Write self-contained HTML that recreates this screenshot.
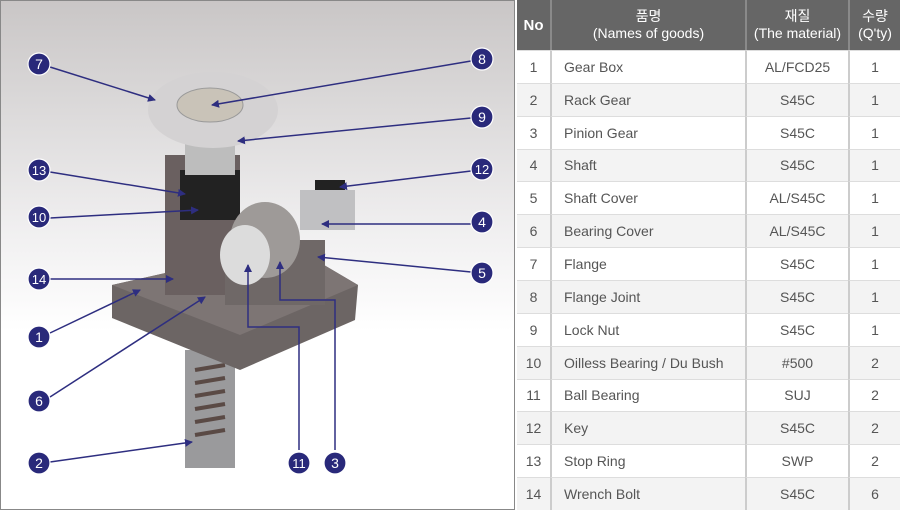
<!DOCTYPE html>
<html><head><meta charset="utf-8"><style>
body{margin:0;width:900px;height:510px;overflow:hidden;background:#fff;font-family:"Liberation Sans","Noto Sans CJK KR",sans-serif}
#left{position:absolute;left:0;top:0;width:515px;height:510px}
#tb{position:absolute;left:517px;top:0;width:383px;height:510px;display:grid;grid-template-columns:33px 195px 103px 52px;grid-template-rows:50px repeat(14,1fr);font-size:14px;color:#555}
#tb div{display:flex;align-items:center;justify-content:center;border-top:1px solid #ddd;border-left:2px solid #ccc;box-sizing:border-box}
#tb div.f{border-left:none}
#tb div.n{justify-content:flex-start;padding-left:12px}
#tb div.h{background:#666;color:#fff;border-left:2px solid #8a8a8a;border-top:none;text-align:center;line-height:17px}
#tb div.h.f{font-weight:bold;font-size:15px;border-left:none}
#tb div.g{background:#f3f3f3}
</style></head><body>
<svg id="left" width="515" height="510" viewBox="0 0 515 510">
<defs><linearGradient id="bg" x1="0" y1="0" x2="0" y2="1">
<stop offset="0" stop-color="#c9c6c6"/><stop offset="0.45" stop-color="#f0eff0"/><stop offset="0.65" stop-color="#fff"/><stop offset="1" stop-color="#fff"/></linearGradient>
<marker id="a" markerWidth="8" markerHeight="8" refX="7" refY="4" orient="auto" markerUnits="userSpaceOnUse"><path d="M0,0 L8,4 L0,8 z" fill="#2e2e80"/></marker></defs>
<rect x="0" y="0" width="515" height="510" fill="url(#bg)" stroke="#888" stroke-width="2"/>
<rect x="185" y="350" width="50" height="118" fill="#9a9a9c"/>
<g stroke="#5a4a45" stroke-width="4">
<line x1="195" y1="370" x2="225" y2="365"/><line x1="195" y1="383" x2="225" y2="378"/><line x1="195" y1="396" x2="225" y2="391"/><line x1="195" y1="409" x2="225" y2="404"/><line x1="195" y1="422" x2="225" y2="417"/><line x1="195" y1="435" x2="225" y2="430"/></g>
<polygon points="112,285 290,245 358,285 355,320 240,370 112,318" fill="#6c6564"/>
<polygon points="112,285 290,245 358,285 240,335" fill="#7d7574"/>
<rect x="165" y="155" width="75" height="140" fill="#6a6060"/>
<rect x="180" y="170" width="60" height="50" fill="#222"/>
<rect x="185" y="130" width="50" height="45" fill="#bdbdbd"/>
<ellipse cx="213" cy="110" rx="65" ry="38" fill="#d4d2d3"/>
<ellipse cx="210" cy="105" rx="33" ry="17" fill="#c9c3b8" stroke="#999"/>
<rect x="225" y="240" width="100" height="65" fill="#6f6867"/>
<rect x="300" y="190" width="55" height="40" fill="#c0c0c2"/>
<rect x="315" y="180" width="30" height="10" fill="#222"/>
<ellipse cx="265" cy="240" rx="35" ry="38" fill="#9e9a98"/>
<ellipse cx="245" cy="255" rx="25" ry="30" fill="#dcdcdc"/>
<g stroke="#2e2e80" stroke-width="1.5" fill="none">
<line x1="50" y1="67" x2="155" y2="100" marker-end="url(#a)"/>
<line x1="471" y1="61" x2="212" y2="105" marker-end="url(#a)"/>
<line x1="471" y1="118" x2="238" y2="141" marker-end="url(#a)"/>
<line x1="471" y1="171" x2="340" y2="187" marker-end="url(#a)"/>
<line x1="471" y1="224" x2="322" y2="224" marker-end="url(#a)"/>
<line x1="471" y1="272" x2="318" y2="257" marker-end="url(#a)"/>
<line x1="50" y1="172" x2="185" y2="194" marker-end="url(#a)"/>
<line x1="50" y1="218" x2="198" y2="210" marker-end="url(#a)"/>
<line x1="50" y1="279" x2="173" y2="279" marker-end="url(#a)"/>
<line x1="50" y1="333" x2="140" y2="290" marker-end="url(#a)"/>
<line x1="50" y1="397" x2="205" y2="297" marker-end="url(#a)"/>
<line x1="50" y1="462" x2="192" y2="442" marker-end="url(#a)"/>
<polyline points="299,450 299,327 248,327 248,265" marker-end="url(#a)"/>
<polyline points="335,450 335,300 280,300 280,262" marker-end="url(#a)"/>
</g>
<g fill="#29297a" stroke="#fff" stroke-width="1.2">
<circle cx="39" cy="64" r="11"/><circle cx="482" cy="59" r="11"/><circle cx="482" cy="117" r="11"/><circle cx="482" cy="169" r="11"/><circle cx="482" cy="222" r="11"/><circle cx="482" cy="273" r="11"/><circle cx="39" cy="170" r="11"/><circle cx="39" cy="217" r="11"/><circle cx="39" cy="279" r="11"/><circle cx="39" cy="337" r="11"/><circle cx="39" cy="401" r="11"/><circle cx="39" cy="463" r="11"/><circle cx="299" cy="463" r="11"/><circle cx="335" cy="463" r="11"/></g>
<g fill="#fff" font-size="14" text-anchor="middle" font-family="Liberation Sans,sans-serif">
<text x="39" y="69">7</text><text x="482" y="64">8</text><text x="482" y="122">9</text><text x="482" y="174" font-size="13">12</text><text x="482" y="227">4</text><text x="482" y="278">5</text><text x="39" y="175" font-size="13">13</text><text x="39" y="222" font-size="13">10</text><text x="39" y="284" font-size="13">14</text><text x="39" y="342">1</text><text x="39" y="406">6</text><text x="39" y="468">2</text><text x="299" y="468" font-size="13">11</text><text x="335" y="468">3</text></g>
</svg>
<div id="tb">
<div class="h f">No</div><div class="h">품명<br>(Names of goods)</div><div class="h">재질<br>(The material)</div><div class="h">수량<br>(Q'ty)</div>
<div class="f">1</div><div class="n">Gear Box</div><div>AL/FCD25</div><div>1</div>
<div class="f g">2</div><div class="n g">Rack Gear</div><div class="g">S45C</div><div class="g">1</div>
<div class="f">3</div><div class="n">Pinion Gear</div><div>S45C</div><div>1</div>
<div class="f g">4</div><div class="n g">Shaft</div><div class="g">S45C</div><div class="g">1</div>
<div class="f">5</div><div class="n">Shaft Cover</div><div>AL/S45C</div><div>1</div>
<div class="f g">6</div><div class="n g">Bearing Cover</div><div class="g">AL/S45C</div><div class="g">1</div>
<div class="f">7</div><div class="n">Flange</div><div>S45C</div><div>1</div>
<div class="f g">8</div><div class="n g">Flange Joint</div><div class="g">S45C</div><div class="g">1</div>
<div class="f">9</div><div class="n">Lock Nut</div><div>S45C</div><div>1</div>
<div class="f g">10</div><div class="n g">Oilless Bearing / Du Bush</div><div class="g">#500</div><div class="g">2</div>
<div class="f">11</div><div class="n">Ball Bearing</div><div>SUJ</div><div>2</div>
<div class="f g">12</div><div class="n g">Key</div><div class="g">S45C</div><div class="g">2</div>
<div class="f">13</div><div class="n">Stop Ring</div><div>SWP</div><div>2</div>
<div class="f g">14</div><div class="n g">Wrench Bolt</div><div class="g">S45C</div><div class="g">6</div>
</div>
</body></html>
